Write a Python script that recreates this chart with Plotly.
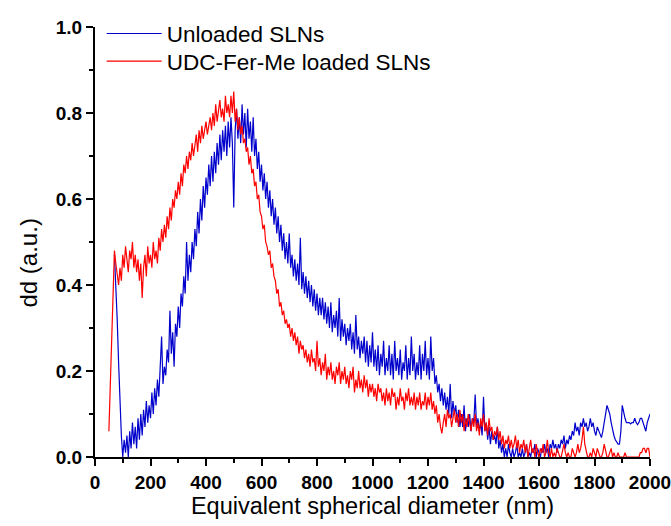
import plotly.graph_objects as go

# ---- data (5 nm sampling) ----
x_loaded_start = 50
x_unloaded_start = 70
step = 5

loaded_dd = [
    0.06, 0.17, 0.28, 0.39, 0.48, 0.45, 0.42, 0.40, 0.44, 0.41,   # 50
    0.47, 0.44, 0.49, 0.45, 0.43, 0.48, 0.46, 0.50, 0.44, 0.47,   # 100
    0.43, 0.46, 0.41, 0.45, 0.37, 0.44, 0.47, 0.42, 0.49, 0.45,   # 150
    0.47, 0.44, 0.50, 0.46, 0.48, 0.45, 0.51, 0.48, 0.53, 0.50,   # 200
    0.54, 0.51, 0.56, 0.53, 0.58, 0.55, 0.60, 0.58, 0.62, 0.60,   # 250
    0.64, 0.61, 0.66, 0.63, 0.68, 0.66, 0.70, 0.67, 0.71, 0.69,   # 300
    0.73, 0.70, 0.72, 0.75, 0.71, 0.76, 0.73, 0.77, 0.74, 0.76,   # 350
    0.78, 0.75, 0.77, 0.79, 0.76, 0.80, 0.77, 0.82, 0.78, 0.80,   # 400
    0.83, 0.79, 0.81, 0.78, 0.84, 0.80, 0.82, 0.79, 0.84, 0.80,   # 450
    0.85, 0.78, 0.81, 0.76, 0.79, 0.75, 0.77, 0.73, 0.74, 0.71,   # 500
    0.72, 0.68, 0.70, 0.66, 0.67, 0.63, 0.64, 0.60, 0.61, 0.57,   # 550
    0.56, 0.53, 0.54, 0.50, 0.49, 0.47, 0.48, 0.44, 0.45, 0.42,   # 600
    0.41, 0.38, 0.39, 0.35, 0.36, 0.33, 0.34, 0.31, 0.32, 0.30,   # 650
    0.31, 0.28, 0.30, 0.27, 0.29, 0.26, 0.28, 0.24, 0.27, 0.25,   # 700
    0.26, 0.23, 0.25, 0.22, 0.24, 0.21, 0.25, 0.22, 0.23, 0.20,   # 750
    0.27, 0.21, 0.23, 0.19, 0.22, 0.20, 0.24, 0.18, 0.21, 0.19,   # 800
    0.22, 0.18, 0.20, 0.17, 0.21, 0.19, 0.22, 0.17, 0.20, 0.18,   # 850
    0.21, 0.17, 0.19, 0.16, 0.20, 0.18, 0.21, 0.15, 0.18, 0.16,   # 900
    0.20, 0.16, 0.18, 0.15, 0.19, 0.16, 0.18, 0.14, 0.17, 0.15,   # 950
    0.17, 0.14, 0.16, 0.13, 0.17, 0.15, 0.16, 0.13, 0.15, 0.12,   # 1000
    0.16, 0.13, 0.15, 0.12, 0.16, 0.14, 0.15, 0.11, 0.14, 0.12,   # 1050
    0.16, 0.13, 0.14, 0.11, 0.15, 0.13, 0.16, 0.12, 0.14, 0.12,   # 1100
    0.15, 0.11, 0.14, 0.12, 0.15, 0.11, 0.13, 0.12, 0.15, 0.11,   # 1150
    0.14, 0.12, 0.15, 0.11, 0.13, 0.10, 0.12, 0.08, 0.10, 0.07,   # 1200
    0.055, 0.08, 0.10, 0.07, 0.11, 0.09, 0.10, 0.07, 0.09, 0.11,  # 1250
    0.08, 0.10, 0.07, 0.11, 0.08, 0.10, 0.06, 0.09, 0.07, 0.10,   # 1300
    0.08, 0.06, 0.09, 0.07, 0.10, 0.06, 0.08, 0.05, 0.09, 0.07,   # 1350
    0.10, 0.06, 0.08, 0.05, 0.09, 0.06, 0.07, 0.04, 0.06, 0.05,   # 1400
    0.07, 0.04, 0.06, 0.03, 0.05, 0.02, 0.04, 0.03, 0.05, 0.02,   # 1450
    0.04, 0.02, 0.03, 0.05, 0.02, 0.04, 0.01, 0.03, 0.02, 0.04,   # 1500
    0.01, 0.03, 0.00, 0.02, 0.04, 0.01, 0.02, 0.00, 0.03, 0.01,   # 1550
    0.00, 0.02, 0.01, 0.03, 0.00, 0.01, 0.04, 0.01, 0.00, 0.02,   # 1600
    0.00, 0.01, 0.00, 0.02, 0.01, 0.00, 0.00, 0.02, 0.03, 0.01,   # 1650
    0.00, 0.01, 0.00, 0.00, 0.02, 0.01, 0.00, 0.01, 0.03, 0.01,   # 1700
    0.02, 0.04, 0.07, 0.03, 0.01, 0.00, 0.00, 0.01, 0.00, 0.02,   # 1750
    0.01, 0.00, 0.02, 0.01, 0.00, 0.00, 0.01, 0.03, 0.01, 0.00,   # 1800
    0.00, 0.01, 0.02, 0.00, 0.01, 0.00, 0.00, 0.01, 0.00, 0.00,   # 1850
    0.00, 0.00, 0.01, 0.00, 0.00, 0.00, 0.00, 0.00, 0.00, 0.00,   # 1900
    0.00, 0.00, 0.00, 0.01, 0.01, 0.02, 0.02, 0.01, 0.02, 0.02,   # 1950
    0.00,                                                         # 2000
]

unloaded_dd = [
    0.47, 0.40, 0.32, 0.22, 0.13, 0.05, 0.00, 0.04, 0.01, 0.05,   # 70
    0.00, 0.06, 0.02, 0.08, 0.03, 0.07, 0.02, 0.09, 0.04, 0.10,   # 120
    0.05, 0.11, 0.07, 0.13, 0.08, 0.12, 0.09, 0.15, 0.10, 0.16,   # 170
    0.12, 0.18, 0.14, 0.20, 0.28, 0.17, 0.21, 0.19, 0.25, 0.22,   # 220
    0.34, 0.24, 0.29, 0.21, 0.31, 0.28, 0.35, 0.30, 0.38, 0.35,   # 270
    0.42, 0.38, 0.50, 0.41, 0.47, 0.43, 0.50, 0.46, 0.53, 0.49,   # 320
    0.57, 0.52, 0.60, 0.55, 0.63, 0.58, 0.65, 0.61, 0.68, 0.63,   # 370
    0.70, 0.64, 0.71, 0.66, 0.73, 0.68, 0.75, 0.69, 0.76, 0.71,   # 420
    0.77, 0.70, 0.78, 0.72, 0.79, 0.73, 0.58, 0.76, 0.81, 0.74,   # 470
    0.79, 0.73, 0.82, 0.75, 0.80, 0.72, 0.81, 0.74, 0.78, 0.71,   # 520
    0.79, 0.70, 0.74, 0.67, 0.71, 0.64, 0.68, 0.62, 0.66, 0.60,   # 570
    0.64, 0.58, 0.62, 0.56, 0.60, 0.54, 0.58, 0.52, 0.56, 0.50,   # 620
    0.54, 0.48, 0.52, 0.46, 0.50, 0.45, 0.52, 0.44, 0.47, 0.42,   # 670
    0.46, 0.41, 0.45, 0.40, 0.51, 0.39, 0.43, 0.38, 0.42, 0.37,   # 720
    0.41, 0.36, 0.40, 0.35, 0.39, 0.34, 0.38, 0.33, 0.37, 0.33,   # 770
    0.37, 0.32, 0.36, 0.31, 0.35, 0.30, 0.36, 0.29, 0.33, 0.30,   # 820
    0.34, 0.28, 0.37, 0.27, 0.32, 0.28, 0.31, 0.26, 0.30, 0.27,   # 870
    0.31, 0.25, 0.29, 0.24, 0.33, 0.25, 0.28, 0.23, 0.27, 0.24,   # 920
    0.28, 0.22, 0.27, 0.21, 0.26, 0.22, 0.29, 0.21, 0.25, 0.20,   # 970
    0.26, 0.19, 0.24, 0.21, 0.27, 0.19, 0.23, 0.20, 0.26, 0.19,   # 1020
    0.24, 0.18, 0.27, 0.20, 0.23, 0.19, 0.25, 0.18, 0.22, 0.20,   # 1070
    0.26, 0.18, 0.23, 0.19, 0.28, 0.20, 0.24, 0.18, 0.22, 0.19,   # 1120
    0.26, 0.18, 0.24, 0.20, 0.27, 0.19, 0.23, 0.18, 0.28, 0.20,   # 1170
    0.23, 0.17, 0.19, 0.15, 0.17, 0.13, 0.16, 0.12, 0.15, 0.11,   # 1220
    0.14, 0.10, 0.17, 0.09, 0.13, 0.10, 0.12, 0.08, 0.11, 0.07,   # 1270
    0.10, 0.07, 0.12, 0.06, 0.09, 0.07, 0.10, 0.06, 0.09, 0.08,   # 1320
    0.145, 0.07, 0.09, 0.06, 0.08, 0.05, 0.14, 0.06, 0.08, 0.04,  # 1370
    0.07, 0.03, 0.06, 0.04, 0.05, 0.03, 0.07, 0.02, 0.04, 0.01,   # 1420
    0.03, 0.00, 0.02, 0.00, 0.03, 0.01, 0.00, 0.02, 0.00, 0.01,   # 1470
    0.03, 0.00, 0.01, 0.00, 0.02, 0.00, 0.01, 0.03, 0.00, 0.01,   # 1520
    0.00, 0.02, 0.01, 0.03, 0.00, 0.02, 0.01, 0.00, 0.02, 0.01,   # 1570
    0.03, 0.01, 0.02, 0.00, 0.03, 0.02, 0.04, 0.02, 0.03, 0.01,   # 1620
    0.03, 0.02, 0.04, 0.03, 0.05, 0.02, 0.04, 0.03, 0.05, 0.04,   # 1670
    0.06, 0.05, 0.08, 0.06, 0.07, 0.05, 0.08, 0.07, 0.09, 0.07,   # 1720
    0.08, 0.06, 0.07, 0.09, 0.07, 0.08, 0.06, 0.05, 0.07, 0.06,   # 1770
    0.05, 0.045, 0.06, 0.08, 0.10, 0.12, 0.11, 0.10, 0.08, 0.06,  # 1820
    0.05, 0.04, 0.035, 0.03, 0.03, 0.06, 0.12, 0.10, 0.09, 0.08,  # 1870
    0.08, 0.08, 0.077, 0.08, 0.08, 0.09, 0.08, 0.075, 0.08, 0.09, # 1920
    0.09, 0.08, 0.07, 0.06, 0.08, 0.09, 0.10,                     # 1970
]

loaded_x = [x_loaded_start + i * step for i in range(len(loaded_dd))]
unloaded_x = [x_unloaded_start + i * step for i in range(len(unloaded_dd))]

x_ticks = [0, 200, 400, 600, 800, 1000, 1200, 1400, 1600, 1800, 2000]
y_ticks = [0.0, 0.2, 0.4, 0.6, 0.8, 1.0]
y_tick_labels = ["0.0", "0.2", "0.4", "0.6", "0.8", "1.0"]

series_names = ["Unloaded SLNs", "UDC-Fer-Me loaded SLNs"]
x_title = "Equivalent spherical diameter (nm)"
y_title = "dd (a.u.)"

FONT = "Liberation Sans, Arial, sans-serif"

fig = go.Figure()
fig.add_trace(go.Scatter(x=unloaded_x, y=unloaded_dd, mode="lines",
                         name=series_names[0], legend="legend",
                         line=dict(color="#0000CC", width=1.2)))
fig.add_trace(go.Scatter(x=loaded_x, y=loaded_dd, mode="lines",
                         name=series_names[1], legend="legend2",
                         line=dict(color="#FF0000", width=1.2)))

legend_common = dict(xanchor="left", yanchor="middle", bgcolor="rgba(0,0,0,0)",
                     font=dict(size=22.5, family=FONT, color="black"),
                     itemwidth=55, borderwidth=0)

fig.update_layout(
    width=671, height=526,
    margin=dict(l=95, r=21, t=18, b=69),
    paper_bgcolor="white", plot_bgcolor="white",
    font=dict(family=FONT, color="black"),
    showlegend=True,
    legend=dict(x=0.012, y=0.984, **legend_common),
    legend2=dict(x=0.012, y=0.920, **legend_common),
    annotations=[dict(text=y_title, xref="paper", yref="paper",
                      x=-0.1207, y=0.45, xanchor="center", yanchor="middle",
                      textangle=-90, showarrow=False,
                      font=dict(size=24, family=FONT, color="black"))],
)

tick_font = dict(size=19, family="Liberation Sans, Arial", weight="bold", color="black")

fig.update_xaxes(
    range=[0, 2000], tickvals=x_ticks, ticktext=[str(v) for v in x_ticks],
    showgrid=False, zeroline=False, showline=True, linecolor="black", linewidth=2,
    ticks="outside", ticklen=7, tickwidth=2, tickcolor="black",
    minor=dict(ticks="outside", ticklen=4, tickwidth=2, tickcolor="black", dtick=100, tick0=0),
    tickfont=tick_font, ticklabelstandoff=0, automargin=False,
    ticklabeloverflow="allow",
    title=dict(text=x_title, font=dict(size=23.5), standoff=5),
)
fig.update_yaxes(
    range=[0, 1.0], tickvals=y_ticks, ticktext=y_tick_labels,
    showgrid=False, zeroline=False, showline=True, linecolor="black", linewidth=2,
    ticks="outside", ticklen=7, tickwidth=2, tickcolor="black",
    minor=dict(ticks="outside", ticklen=4, tickwidth=2, tickcolor="black", dtick=0.1, tick0=0),
    tickfont=tick_font, automargin=False, ticklabeloverflow="allow",
)

fig.write_html(
    "out.html",
    config={"displayModeBar": False},
    post_script="document.body.style.margin='0';document.body.style.overflow='hidden';",
)
